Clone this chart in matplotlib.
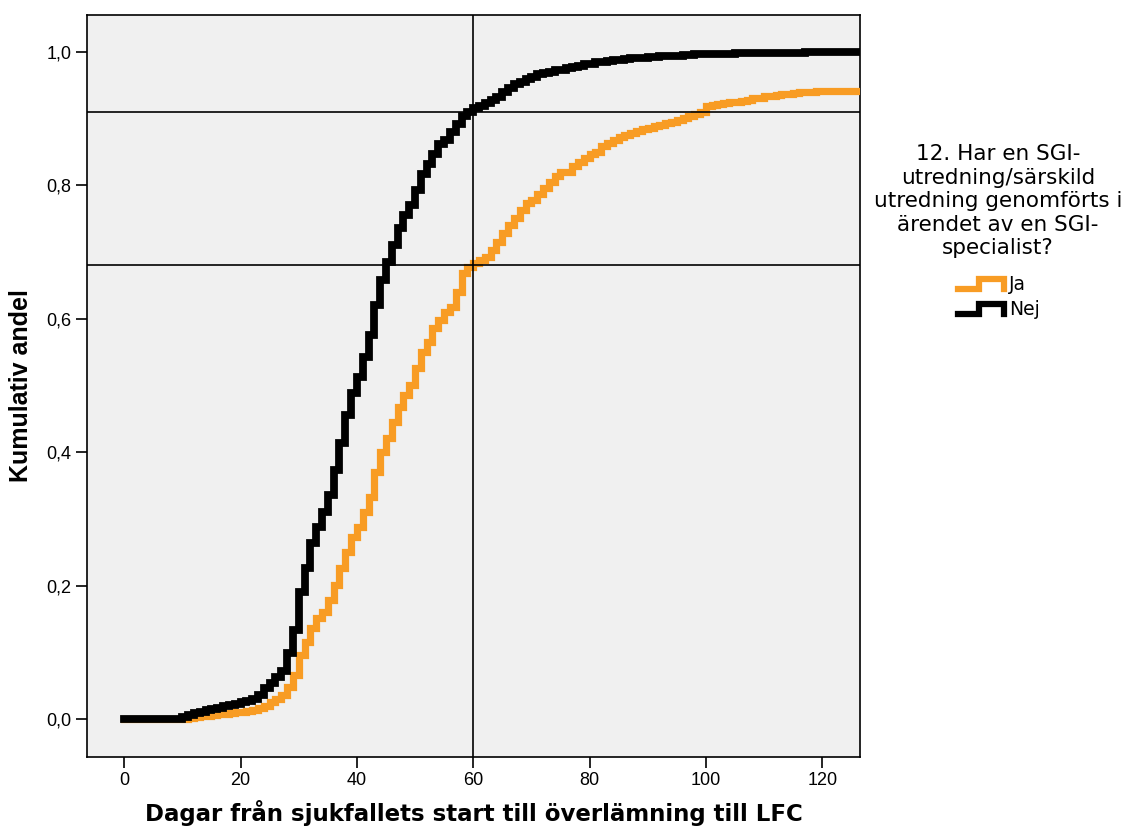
import matplotlib
matplotlib.use("Agg")
import matplotlib.pyplot as plt
from matplotlib.lines import Line2D
from matplotlib.ticker import FuncFormatter

# Days since the start of the sick-leave case
days = list(range(0, 127))

# Cumulative share, group "Ja"
ja = [0, 0, 0, 0, 0, 0, 0, 0, 0, 0, 0,
      0.002, 0.003, 0.004, 0.005, 0.006, 0.007, 0.008, 0.009, 0.010, 0.011,
      0.012, 0.014, 0.016, 0.020, 0.025, 0.030, 0.036, 0.048, 0.066, 0.096,
      0.116, 0.136, 0.151, 0.161, 0.178, 0.201, 0.226, 0.250, 0.273, 0.288,
      0.310, 0.333, 0.370, 0.400, 0.421, 0.445, 0.468, 0.486, 0.501, 0.526,
      0.550, 0.565, 0.586, 0.598, 0.610, 0.618, 0.640, 0.669, 0.678, 0.683,
      0.688, 0.693, 0.703, 0.715, 0.729, 0.741, 0.751, 0.763, 0.774, 0.778,
      0.786, 0.796, 0.804, 0.813, 0.819, 0.820, 0.828, 0.834, 0.841, 0.846,
      0.850, 0.858, 0.863, 0.867, 0.872, 0.875, 0.878, 0.881, 0.884, 0.886,
      0.888, 0.890, 0.893, 0.895, 0.898, 0.901, 0.904, 0.907, 0.909, 0.918,
      0.920, 0.922, 0.923, 0.924, 0.925, 0.926, 0.928, 0.930, 0.931, 0.933,
      0.934, 0.935, 0.936, 0.937, 0.938, 0.939, 0.940, 0.940, 0.941, 0.941,
      0.941, 0.941, 0.941, 0.941, 0.941, 0.941]

# Cumulative share, group "Nej"
nej = [0, 0, 0, 0, 0, 0, 0, 0, 0, 0,
       0.003, 0.006, 0.009, 0.011, 0.013, 0.015, 0.017, 0.019, 0.021, 0.023,
       0.025, 0.027, 0.030, 0.036, 0.046, 0.054, 0.063, 0.072, 0.099, 0.133,
       0.190, 0.226, 0.264, 0.288, 0.310, 0.336, 0.373, 0.413, 0.456, 0.489,
       0.513, 0.543, 0.576, 0.621, 0.658, 0.685, 0.711, 0.736, 0.756, 0.770,
       0.793, 0.816, 0.831, 0.846, 0.861, 0.868, 0.880, 0.891, 0.903, 0.909,
       0.915, 0.918, 0.923, 0.928, 0.932, 0.940, 0.946, 0.951, 0.955, 0.959,
       0.962, 0.966, 0.968, 0.970, 0.972, 0.973, 0.975, 0.977, 0.979, 0.981,
       0.982, 0.984, 0.985, 0.986, 0.987, 0.988, 0.989, 0.990, 0.990, 0.991,
       0.992, 0.992, 0.993, 0.993, 0.994, 0.994, 0.995, 0.995, 0.996, 0.996,
       0.997, 0.997, 0.997, 0.997, 0.997, 0.998, 0.998, 0.998, 0.998, 0.998,
       0.998, 0.998, 0.998, 0.998, 0.998, 0.998, 0.998, 0.999, 0.999, 0.999,
       0.999, 0.999, 0.999, 0.999, 0.999, 0.999, 0.999]

ref_day = 60
ref_levels = [0.91, 0.68]

x_ticks = [0, 20, 40, 60, 80, 100, 120]
y_ticks = [0.0, 0.2, 0.4, 0.6, 0.8, 1.0]

legend_title = "12. Har en SGI-\nutredning/särskild\nutredning genomförts i\närendet av en SGI-\nspecialist?"
group_labels = ["Ja", "Nej"]
colors = ["#f89c24", "#000000"]

plt.rcParams["font.family"] = ["Liberation Sans", "DejaVu Sans"]

fig = plt.figure(figsize=(11.29, 8.30), dpi=100)
ax = fig.add_axes([87 / 1129, 73 / 830, 773 / 1129, 742 / 830])
ax.set_facecolor("#f0f0f0")

ax.plot(days, ja, drawstyle="steps-post", color=colors[0], lw=5.2,
        solid_joinstyle="miter", zorder=3)
ax.plot(days, nej, drawstyle="steps-post", color=colors[1], lw=5.6,
        solid_joinstyle="miter", zorder=4)

for lvl in ref_levels:
    ax.axhline(lvl, color="black", lw=1.2, zorder=5)
ax.axvline(ref_day, color="black", lw=1.2, zorder=5)

ax.set_xlim(-6.4, 126.5)
ax.set_ylim(-0.057, 1.055)
ax.set_xticks(x_ticks)
ax.set_yticks(y_ticks)
ax.yaxis.set_major_formatter(FuncFormatter(lambda v, p: f"{v:.1f}".replace(".", ",")))
ax.tick_params(direction="out", length=8, width=1.2, labelsize=13, pad=3,
               colors="black")
for s in ax.spines.values():
    s.set_linewidth(1.2)
    s.set_color("black")

ax.set_xlabel("Dagar från sjukfallets start till överlämning till LFC",
              fontsize=16.5, fontweight="bold", family=["DejaVu Sans"],
              labelpad=8)
ax.set_ylabel("Kumulativ andel", fontsize=18, fontweight="bold", labelpad=10)

# Legend block at the right
fig.text(998 / 1129, 1 - 144 / 830, legend_title, ha="center", va="top",
         fontsize=15.5, linespacing=1.22, family=["DejaVu Sans"])

for i, (lab, col) in enumerate(zip(group_labels, colors)):
    y_lo = 1 - (289 + 25 * i) / 830
    y_hi = 1 - (279 + 25 * i) / 830
    xs = [958 / 1129, 979 / 1129, 979 / 1129, 1004 / 1129, 1004 / 1129]
    ys = [y_lo, y_lo, y_hi, y_hi, y_lo]
    fig.add_artist(Line2D(xs, ys, color=col, lw=4.5, solid_joinstyle="miter",
                          transform=fig.transFigure))
    fig.text(1009 / 1129, (y_lo + y_hi) / 2, lab, ha="left", va="center",
             fontsize=13.5, family=["DejaVu Sans"])

fig.savefig("out.png", dpi=100, facecolor="white")
